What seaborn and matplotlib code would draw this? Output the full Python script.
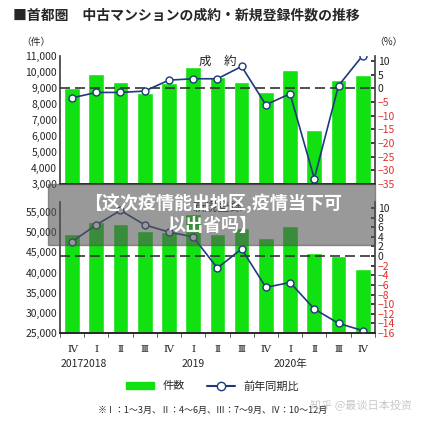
import matplotlib
matplotlib.use("Agg")
import matplotlib.pyplot as plt
import seaborn as sns
import numpy as np
import pandas as pd

sns.set_theme(style="white")
plt.rcParams['font.family'] = ['Noto Sans CJK JP', 'DejaVu Sans']

quarters = ["Ⅳ", "Ⅰ", "Ⅱ", "Ⅲ", "Ⅳ", "Ⅰ", "Ⅱ", "Ⅲ", "Ⅳ", "Ⅰ", "Ⅱ", "Ⅲ", "Ⅳ"]
contracts = [9000, 9900, 9350, 8700, 9300, 10300, 9700, 9400, 8750, 10100, 6400, 9500, 9800]
contracts_yoy = [-3.5, -1.5, -1.5, -1, 3, 3.5, 3.5, 8, -6, -2, -33, 1, 12]
listings = [49500, 52500, 52000, 50300, 50000, 54500, 49500, 51000, 48500, 51500, 44800, 44000, 41000]
listings_yoy = [3, 6.5, 9.5, 6.5, 5, 4, -2.5, 1.5, -6.5, -5.5, -11, -14, -15.5]

green = "#11e011"
navy = "#1f3a7a"
fig = plt.figure(figsize=(4.25, 4.28), dpi=100)
fig.text(0.03, 0.955, "■首都圏　中古マンションの成約・新規登録件数の推移", fontsize=10, weight="bold")

def panel(rect, bars, yoy, ylim, yticks, rylim, rticks, title):
    ax = fig.add_axes(rect)
    df = pd.DataFrame({"x": range(len(bars)), "v": bars})
    sns.barplot(data=df, x="x", y="v", color=green, width=0.65, ax=ax, saturation=1)
    ax.set_ylim(*ylim)
    ax.set_yticks(yticks)
    ax.set_yticklabels([f"{t:,}" for t in yticks], fontsize=7.5)
    ax.set_xlabel(""); ax.set_ylabel("")
    ax.set_xlim(-0.5, len(bars) - 0.5)
    ax.set_xticks([])
    for s in ["top", "right"]:
        ax.spines[s].set_visible(False)
    ax.tick_params(axis="y", length=0, pad=2)
    ax2 = ax.twinx()
    ax2.axhline(0, color="#333", ls=(0, (6, 3)), lw=1.2)
    sns.lineplot(x=list(range(len(yoy))), y=yoy, ax=ax2, color=navy, lw=1.2, marker="o",
                 markersize=5, markerfacecolor="white", markeredgecolor=navy, markeredgewidth=1)
    ax2.set_ylim(*rylim)
    ax2.set_yticks(rticks)
    ax2.set_yticklabels([str(t).replace("-", "−") for t in rticks], fontsize=7.5)
    for lab, t in zip(ax2.get_yticklabels(), rticks):
        lab.set_color("#e03030" if t < 0 else "#222")
    ax2.tick_params(axis="y", length=3, direction="in", pad=2)
    for s in ["top", "left"]:
        ax2.spines[s].set_visible(False)
    ax2.spines["right"].set_color("#444")
    ax.spines["left"].set_color("#444"); ax.spines["bottom"].set_color("#444")
    ax.text(0.5, 0.93, title, transform=ax.transAxes, ha="center", fontsize=9)
    return ax, ax2

axt, axt2 = panel([0.141, 0.570, 0.741, 0.299], contracts, contracts_yoy, (3000, 11000),
                  list(range(3000, 11001, 1000)), (-35, 11.8), list(range(-35, 11, 5)), "成　約")
fig.text(0.05, 0.895, "（件）", fontsize=7)
fig.text(0.88, 0.895, "（%）", fontsize=7)
axb, axb2 = panel([0.141, 0.222, 0.741, 0.306], listings, listings_yoy, (25000, 57500),
                  list(range(25000, 55001, 5000)), (-16, 11.25), list(range(-16, 11, 2)), "新規登録")
axb.set_xticks(range(len(quarters)))
axb.set_xticklabels(quarters, fontsize=7.5, family=["DejaVu Serif"])
axb.tick_params(axis="x", length=0, pad=9)
for i in range(len(quarters) + 1):
    axb.plot([i - 0.5, i - 0.5], [25000, 24000], color="#444", lw=0.6, clip_on=False)
for x, lab in [(0.5, "20172018"), (5, "2019"), (9, "2020年")]:
    axb.annotate(lab, xy=(x, 0), xycoords=("data", "axes fraction"), xytext=(0, -34),
                 textcoords="offset pixels", ha="center", fontsize=7.5)

from matplotlib.patches import Patch
from matplotlib.lines import Line2D
handles = [Patch(color=green, label="件数"),
           Line2D([], [], color=navy, marker="o", markerfacecolor="white", label="前年同期比")]
fig.legend(handles=handles, loc="center", bbox_to_anchor=(0.5, 0.098), ncol=2, frameon=False,
           fontsize=8, handlelength=2.5, columnspacing=2)
fig.text(0.5, 0.035, "※Ⅰ：1～3月、Ⅱ：4～6月、Ⅲ：7～9月、Ⅳ：10～12月", ha="center", fontsize=6.5)
fig.text(0.97, 0.045, "知乎 @最谈日本投资", ha="right", fontsize=8, color="#bbb", alpha=0.8)

fig.patches.append(plt.Rectangle((0.113, 0.428), 0.77, 0.143, transform=fig.transFigure,
                                 color="#555", alpha=0.6, zorder=10))
fig.text(0.5, 0.50, "【这次疫情能出地区,疫情当下可\n以出省吗】", ha="center", va="center",
         fontsize=13, weight="bold", color="white", zorder=11, linespacing=1.15,
         family=["Noto Sans CJK SC", "DejaVu Sans"])

fig.savefig("out.png", dpi=100)
